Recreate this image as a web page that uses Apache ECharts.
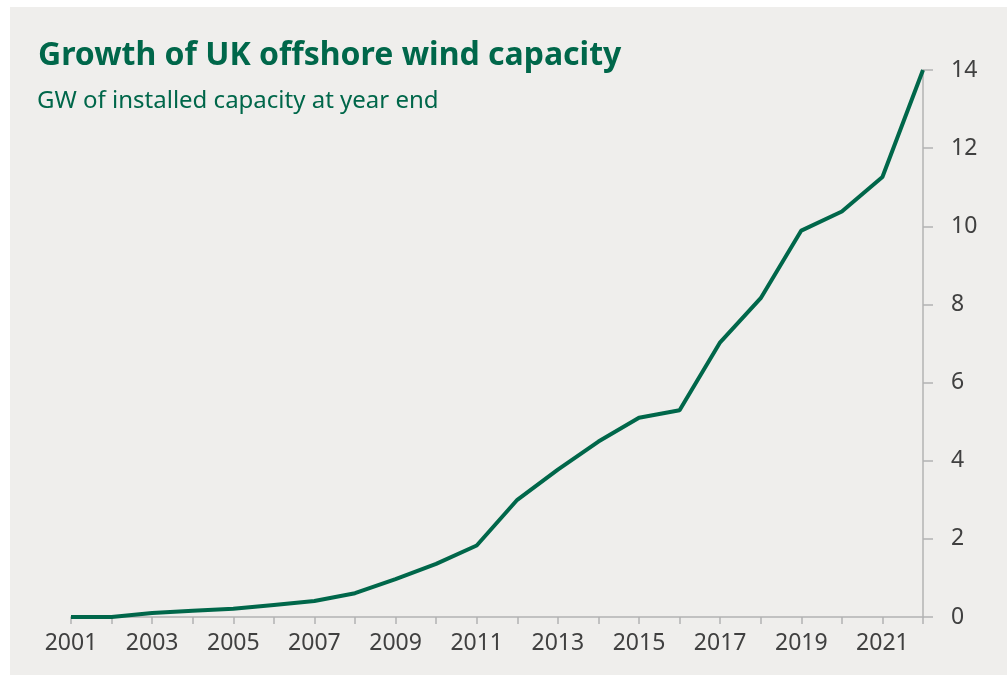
<!DOCTYPE html>
<html>
<head>
<meta charset="utf-8">
<script src="https://cdn.jsdelivr.net/npm/echarts@6/dist/echarts.min.js"></script>
<style>
    html, body { margin: 0; padding: 0; background: #ffffff; }
    #panel { position: absolute; left: 10px; top: 7px; width: 997px; height: 668px; background: #efeeec; }
    #chart { position: absolute; left: 0; top: 0; width: 1007px; height: 675px; }
</style>
</head>
<body>
<div id="panel"></div>
<div id="chart"></div>
<script>
    // years at year end
    var years = ['2001', '2002', '2003', '2004', '2005', '2006', '2007', '2008', '2009', '2010', '2011',
        '2012', '2013', '2014', '2015', '2016', '2017', '2018', '2019', '2020', '2021', '2022'];
    // installed offshore capacity, GW
    var capacity = [0, 0, 0.10, 0.16, 0.21, 0.31, 0.41, 0.61, 0.97, 1.36, 1.83,
        3.0, 3.77, 4.49, 5.10, 5.29, 7.03, 8.16, 9.89, 10.38, 11.26, 14.0];
    var yTicks = [0, 2, 4, 6, 8, 10, 12, 14];

    var green = '#00674a';
    var axisGrey = '#b3b3b3';
    var labelGrey = '#404040';

    var chart = echarts.init(document.getElementById('chart'));
    var option = {
        backgroundColor: 'transparent',
        animation: false,
        title: [{
            text: 'Growth of UK offshore wind capacity',
            left: 33,
            top: 35,
            textStyle: {
                fontFamily: 'Noto Sans',
                fontWeight: 'bold',
                fontSize: 32,
                color: green
            }
        }, {
            text: 'GW of installed capacity at year end',
            left: 32,
            top: 84,
            textStyle: {
                fontFamily: 'Noto Sans',
                fontWeight: 'normal',
                fontSize: 24,
                color: green
            }
        }],
        grid: {
            left: 71,
            right: 84,
            top: 70,
            bottom: 58,
            containLabel: false
        },
        xAxis: {
            type: 'category',
            data: years,
            boundaryGap: false,
            axisLine: { lineStyle: { color: axisGrey, width: 1.5 } },
            axisTick: { show: true, interval: 0, length: 7, lineStyle: { color: axisGrey, width: 1.5 } },
            axisLabel: {
                interval: 1,
                margin: 15,
                fontFamily: 'Noto Sans',
                fontSize: 23,
                color: labelGrey
            },
            splitLine: { show: false }
        },
        yAxis: {
            type: 'value',
            position: 'right',
            min: yTicks[0],
            max: yTicks[yTicks.length - 1],
            interval: 2,
            axisLine: { show: true, lineStyle: { color: axisGrey, width: 1.5 } },
            axisTick: { show: true, length: 10, lineStyle: { color: axisGrey, width: 1.5 } },
            axisLabel: {
                margin: 28,
                fontFamily: 'Noto Sans',
                fontSize: 23,
                color: labelGrey
            },
            splitLine: { show: false }
        },
        series: [{
            type: 'line',
            data: capacity,
            symbol: 'none',
            lineStyle: { color: green, width: 4 },
            itemStyle: { color: green }
        }]
    };
    chart.setOption(option);
</script>
</body>
</html>
